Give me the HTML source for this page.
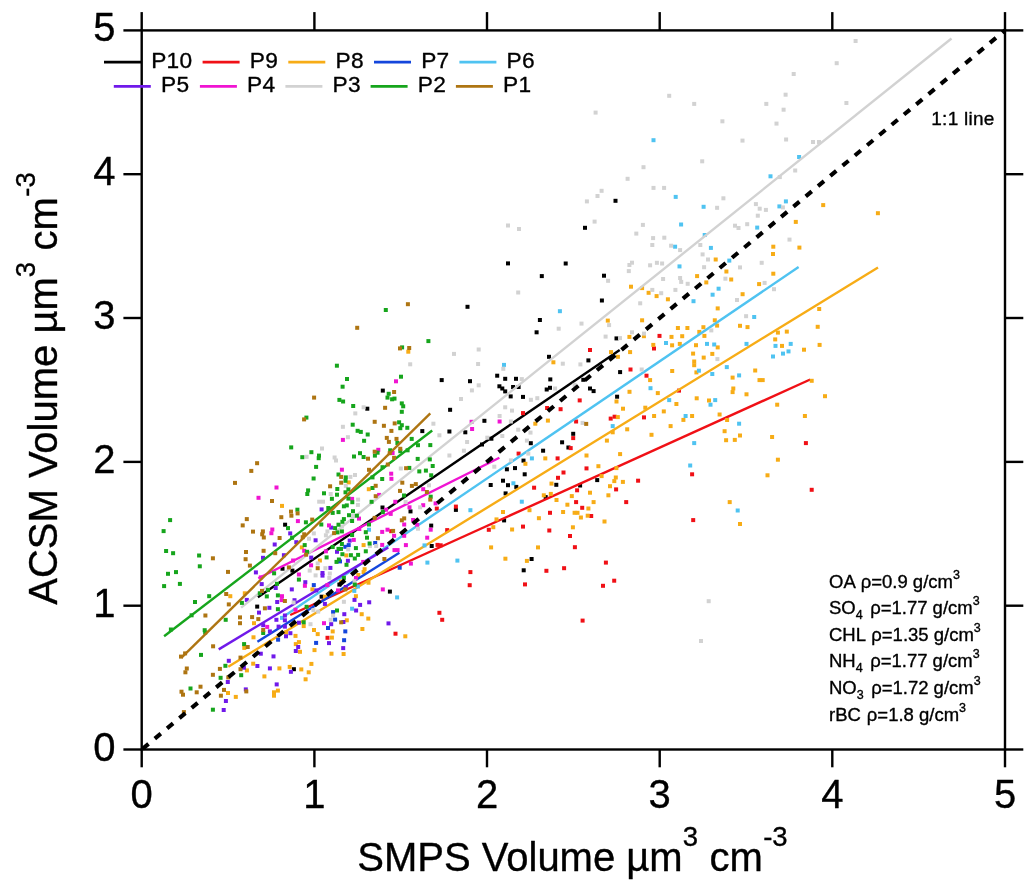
<!DOCTYPE html>
<html lang="en"><head><meta charset="utf-8"><title>ACSM vs SMPS volume scatter</title>
<style>html,body{margin:0;padding:0;background:#fff}body{width:1036px;height:892px;overflow:hidden}svg{display:block}text{font-family:"Liberation Sans", Arial, Helvetica, sans-serif;fill:#000;stroke:#000;stroke-width:0.35px;stroke-linejoin:round}</style></head><body>
<svg width="1036" height="892" viewBox="0 0 1036 892">
<rect width="1036" height="892" fill="#fff"/>
<g id="traces" stroke-width="2.4" stroke-linecap="butt">
<g fill="#000000" stroke="none">
<rect x="283.1" y="522.7" width="4.0" height="4.0"/><rect x="380.8" y="388.6" width="4.0" height="4.0"/><rect x="365.3" y="406.7" width="4.0" height="4.0"/><rect x="420.3" y="429.1" width="4.0" height="4.0"/><rect x="380.5" y="505.5" width="4.0" height="4.0"/><rect x="408.5" y="509.4" width="4.0" height="4.0"/><rect x="429.2" y="523.6" width="4.0" height="4.0"/><rect x="429.7" y="544.0" width="4.0" height="4.0"/><rect x="387.9" y="589.6" width="4.0" height="4.0"/><rect x="280.5" y="566.7" width="4.0" height="4.0"/><rect x="290.4" y="568.6" width="4.0" height="4.0"/><rect x="337.4" y="582.6" width="4.0" height="4.0"/><rect x="319.6" y="594.7" width="4.0" height="4.0"/><rect x="255.2" y="604.6" width="4.0" height="4.0"/><rect x="291.9" y="667.2" width="4.0" height="4.0"/><rect x="495.2" y="373.7" width="4.0" height="4.0"/><rect x="439.7" y="378.1" width="4.0" height="4.0"/><rect x="468.0" y="379.2" width="4.0" height="4.0"/><rect x="503.2" y="376.8" width="4.0" height="4.0"/><rect x="514.0" y="376.8" width="4.0" height="4.0"/><rect x="548.3" y="377.4" width="4.0" height="4.0"/><rect x="497.4" y="384.3" width="4.0" height="4.0"/><rect x="500.3" y="386.5" width="4.0" height="4.0"/><rect x="503.2" y="389.4" width="4.0" height="4.0"/><rect x="511.1" y="385.0" width="4.0" height="4.0"/><rect x="516.6" y="385.0" width="4.0" height="4.0"/><rect x="548.0" y="385.8" width="4.0" height="4.0"/><rect x="544.7" y="387.5" width="4.0" height="4.0"/><rect x="581.3" y="377.8" width="4.0" height="4.0"/><rect x="588.0" y="386.5" width="4.0" height="4.0"/><rect x="508.7" y="394.4" width="4.0" height="4.0"/><rect x="521.0" y="394.9" width="4.0" height="4.0"/><rect x="448.1" y="407.8" width="4.0" height="4.0"/><rect x="482.4" y="418.8" width="4.0" height="4.0"/><rect x="447.4" y="429.5" width="4.0" height="4.0"/><rect x="463.3" y="430.3" width="4.0" height="4.0"/><rect x="571.2" y="431.8" width="4.0" height="4.0"/><rect x="489.4" y="436.7" width="4.0" height="4.0"/><rect x="528.8" y="441.2" width="4.0" height="4.0"/><rect x="560.1" y="440.3" width="4.0" height="4.0"/><rect x="480.0" y="442.5" width="4.0" height="4.0"/><rect x="566.4" y="445.5" width="4.0" height="4.0"/><rect x="541.1" y="448.7" width="4.0" height="4.0"/><rect x="521.5" y="458.6" width="4.0" height="4.0"/><rect x="504.9" y="467.3" width="4.0" height="4.0"/><rect x="513.0" y="466.1" width="4.0" height="4.0"/><rect x="522.7" y="472.3" width="4.0" height="4.0"/><rect x="501.0" y="478.7" width="4.0" height="4.0"/><rect x="488.7" y="483.0" width="4.0" height="4.0"/><rect x="506.0" y="483.2" width="4.0" height="4.0"/><rect x="514.3" y="484.9" width="4.0" height="4.0"/><rect x="554.3" y="482.8" width="4.0" height="4.0"/><rect x="578.1" y="483.5" width="4.0" height="4.0"/><rect x="503.6" y="491.4" width="4.0" height="4.0"/><rect x="543.7" y="495.1" width="4.0" height="4.0"/><rect x="453.9" y="507.9" width="4.0" height="4.0"/><rect x="502.1" y="518.4" width="4.0" height="4.0"/><rect x="529.6" y="557.0" width="4.0" height="4.0"/><rect x="521.7" y="568.3" width="4.0" height="4.0"/><rect x="591.6" y="389.1" width="4.0" height="4.0"/><rect x="615.1" y="394.7" width="4.0" height="4.0"/><rect x="595.2" y="478.1" width="4.0" height="4.0"/><rect x="602.0" y="273.7" width="4.0" height="4.0"/><rect x="599.9" y="298.5" width="4.0" height="4.0"/><rect x="614.5" y="336.4" width="4.0" height="4.0"/><rect x="618.1" y="370.1" width="4.0" height="4.0"/><rect x="506.0" y="261.4" width="4.0" height="4.0"/><rect x="563.7" y="261.5" width="4.0" height="4.0"/><rect x="539.8" y="274.1" width="4.0" height="4.0"/><rect x="465.5" y="304.8" width="4.0" height="4.0"/><rect x="537.9" y="318.0" width="4.0" height="4.0"/><rect x="534.6" y="330.3" width="4.0" height="4.0"/><rect x="547.0" y="354.8" width="4.0" height="4.0"/><rect x="586.4" y="358.4" width="4.0" height="4.0"/><rect x="613.5" y="198.8" width="4.0" height="4.0"/><rect x="583.0" y="225.8" width="4.0" height="4.0"/>
</g>
<line x1="257.9" y1="597.2" x2="619.7" y2="350.0" stroke="#000000"/>
<g fill="#f01016" stroke="none">
<rect x="434.8" y="506.6" width="4.0" height="4.0"/><rect x="389.2" y="529.2" width="4.0" height="4.0"/><rect x="435.5" y="542.9" width="4.0" height="4.0"/><rect x="437.4" y="610.8" width="4.0" height="4.0"/><rect x="325.5" y="635.8" width="4.0" height="4.0"/><rect x="393.5" y="631.7" width="4.0" height="4.0"/><rect x="577.7" y="398.4" width="4.0" height="4.0"/><rect x="545.1" y="406.0" width="4.0" height="4.0"/><rect x="558.6" y="407.2" width="4.0" height="4.0"/><rect x="521.0" y="411.1" width="4.0" height="4.0"/><rect x="574.1" y="419.5" width="4.0" height="4.0"/><rect x="571.2" y="436.1" width="4.0" height="4.0"/><rect x="568.7" y="446.1" width="4.0" height="4.0"/><rect x="516.6" y="451.6" width="4.0" height="4.0"/><rect x="555.6" y="456.4" width="4.0" height="4.0"/><rect x="584.5" y="466.4" width="4.0" height="4.0"/><rect x="561.5" y="470.5" width="4.0" height="4.0"/><rect x="556.0" y="475.8" width="4.0" height="4.0"/><rect x="532.1" y="485.7" width="4.0" height="4.0"/><rect x="575.1" y="488.3" width="4.0" height="4.0"/><rect x="574.1" y="500.1" width="4.0" height="4.0"/><rect x="453.9" y="504.6" width="4.0" height="4.0"/><rect x="548.0" y="510.8" width="4.0" height="4.0"/><rect x="580.2" y="505.8" width="4.0" height="4.0"/><rect x="445.2" y="528.1" width="4.0" height="4.0"/><rect x="486.8" y="527.8" width="4.0" height="4.0"/><rect x="521.0" y="524.6" width="4.0" height="4.0"/><rect x="547.3" y="528.5" width="4.0" height="4.0"/><rect x="568.0" y="534.0" width="4.0" height="4.0"/><rect x="438.7" y="543.3" width="4.0" height="4.0"/><rect x="572.9" y="545.2" width="4.0" height="4.0"/><rect x="544.4" y="568.8" width="4.0" height="4.0"/><rect x="562.1" y="566.2" width="4.0" height="4.0"/><rect x="468.4" y="570.1" width="4.0" height="4.0"/><rect x="467.7" y="583.2" width="4.0" height="4.0"/><rect x="523.0" y="582.4" width="4.0" height="4.0"/><rect x="440.2" y="617.8" width="4.0" height="4.0"/><rect x="580.6" y="618.6" width="4.0" height="4.0"/><rect x="644.5" y="373.7" width="4.0" height="4.0"/><rect x="677.0" y="388.6" width="4.0" height="4.0"/><rect x="608.7" y="416.6" width="4.0" height="4.0"/><rect x="612.6" y="414.7" width="4.0" height="4.0"/><rect x="642.0" y="415.4" width="4.0" height="4.0"/><rect x="690.1" y="472.3" width="4.0" height="4.0"/><rect x="636.1" y="478.7" width="4.0" height="4.0"/><rect x="614.1" y="487.4" width="4.0" height="4.0"/><rect x="624.2" y="500.1" width="4.0" height="4.0"/><rect x="589.2" y="514.0" width="4.0" height="4.0"/><rect x="691.2" y="518.1" width="4.0" height="4.0"/><rect x="603.9" y="560.6" width="4.0" height="4.0"/><rect x="612.2" y="578.7" width="4.0" height="4.0"/><rect x="601.0" y="583.8" width="4.0" height="4.0"/><rect x="803.9" y="441.1" width="4.0" height="4.0"/><rect x="809.7" y="487.8" width="4.0" height="4.0"/><rect x="657.5" y="333.9" width="4.0" height="4.0"/><rect x="652.0" y="346.5" width="4.0" height="4.0"/><rect x="588.0" y="348.0" width="4.0" height="4.0"/><rect x="628.5" y="367.5" width="4.0" height="4.0"/>
</g>
<line x1="290.2" y1="615.0" x2="810.2" y2="379.5" stroke="#f01016"/>
<g fill="#f7ac16" stroke="none">
<rect x="406.3" y="349.7" width="4.0" height="4.0"/><rect x="280.0" y="503.9" width="4.0" height="4.0"/><rect x="346.7" y="480.4" width="4.0" height="4.0"/><rect x="366.8" y="487.2" width="4.0" height="4.0"/><rect x="361.6" y="543.1" width="4.0" height="4.0"/><rect x="344.3" y="553.4" width="4.0" height="4.0"/><rect x="362.6" y="567.2" width="4.0" height="4.0"/><rect x="361.6" y="570.1" width="4.0" height="4.0"/><rect x="356.3" y="573.0" width="4.0" height="4.0"/><rect x="339.0" y="579.5" width="4.0" height="4.0"/><rect x="366.5" y="580.7" width="4.0" height="4.0"/><rect x="353.9" y="594.2" width="4.0" height="4.0"/><rect x="359.7" y="612.2" width="4.0" height="4.0"/><rect x="366.3" y="616.6" width="4.0" height="4.0"/><rect x="344.8" y="618.3" width="4.0" height="4.0"/><rect x="360.4" y="627.0" width="4.0" height="4.0"/><rect x="299.8" y="545.4" width="4.0" height="4.0"/><rect x="317.9" y="558.5" width="4.0" height="4.0"/><rect x="310.4" y="587.4" width="4.0" height="4.0"/><rect x="242.8" y="591.3" width="4.0" height="4.0"/><rect x="322.9" y="594.7" width="4.0" height="4.0"/><rect x="252.0" y="621.2" width="4.0" height="4.0"/><rect x="301.7" y="624.1" width="4.0" height="4.0"/><rect x="312.0" y="628.0" width="4.0" height="4.0"/><rect x="330.7" y="629.4" width="4.0" height="4.0"/><rect x="284.0" y="630.5" width="4.0" height="4.0"/><rect x="315.7" y="632.1" width="4.0" height="4.0"/><rect x="251.5" y="635.3" width="4.0" height="4.0"/><rect x="293.5" y="633.9" width="4.0" height="4.0"/><rect x="329.9" y="635.6" width="4.0" height="4.0"/><rect x="242.3" y="645.9" width="4.0" height="4.0"/><rect x="296.9" y="640.1" width="4.0" height="4.0"/><rect x="293.8" y="642.1" width="4.0" height="4.0"/><rect x="298.0" y="649.8" width="4.0" height="4.0"/><rect x="312.5" y="648.1" width="4.0" height="4.0"/><rect x="329.5" y="651.7" width="4.0" height="4.0"/><rect x="251.2" y="661.7" width="4.0" height="4.0"/><rect x="309.4" y="661.9" width="4.0" height="4.0"/><rect x="277.4" y="666.4" width="4.0" height="4.0"/><rect x="287.7" y="664.9" width="4.0" height="4.0"/><rect x="299.3" y="667.4" width="4.0" height="4.0"/><rect x="306.7" y="670.3" width="4.0" height="4.0"/><rect x="244.9" y="668.4" width="4.0" height="4.0"/><rect x="262.4" y="674.4" width="4.0" height="4.0"/><rect x="303.6" y="677.3" width="4.0" height="4.0"/><rect x="275.9" y="688.6" width="4.0" height="4.0"/><rect x="272.0" y="690.3" width="4.0" height="4.0"/><rect x="272.0" y="693.7" width="4.0" height="4.0"/><rect x="228.3" y="594.2" width="4.0" height="4.0"/><rect x="226.0" y="691.0" width="4.0" height="4.0"/><rect x="233.8" y="694.9" width="4.0" height="4.0"/><rect x="403.3" y="634.3" width="4.0" height="4.0"/><rect x="341.6" y="652.0" width="4.0" height="4.0"/><rect x="545.9" y="418.6" width="4.0" height="4.0"/><rect x="533.3" y="421.7" width="4.0" height="4.0"/><rect x="584.5" y="453.5" width="4.0" height="4.0"/><rect x="543.3" y="456.4" width="4.0" height="4.0"/><rect x="523.4" y="461.8" width="4.0" height="4.0"/><rect x="549.5" y="481.6" width="4.0" height="4.0"/><rect x="541.8" y="493.3" width="4.0" height="4.0"/><rect x="548.8" y="491.9" width="4.0" height="4.0"/><rect x="569.8" y="494.1" width="4.0" height="4.0"/><rect x="554.5" y="498.0" width="4.0" height="4.0"/><rect x="588.0" y="490.7" width="4.0" height="4.0"/><rect x="501.0" y="510.0" width="4.0" height="4.0"/><rect x="527.5" y="508.2" width="4.0" height="4.0"/><rect x="561.1" y="510.0" width="4.0" height="4.0"/><rect x="565.4" y="502.7" width="4.0" height="4.0"/><rect x="586.4" y="506.5" width="4.0" height="4.0"/><rect x="572.6" y="510.8" width="4.0" height="4.0"/><rect x="575.5" y="510.8" width="4.0" height="4.0"/><rect x="585.7" y="513.7" width="4.0" height="4.0"/><rect x="578.9" y="515.5" width="4.0" height="4.0"/><rect x="494.5" y="517.4" width="4.0" height="4.0"/><rect x="536.9" y="516.2" width="4.0" height="4.0"/><rect x="491.3" y="525.2" width="4.0" height="4.0"/><rect x="510.1" y="527.5" width="4.0" height="4.0"/><rect x="570.9" y="525.3" width="4.0" height="4.0"/><rect x="489.1" y="545.4" width="4.0" height="4.0"/><rect x="536.0" y="545.4" width="4.0" height="4.0"/><rect x="503.4" y="556.7" width="4.0" height="4.0"/><rect x="524.9" y="558.9" width="4.0" height="4.0"/><rect x="648.1" y="378.1" width="4.0" height="4.0"/><rect x="627.5" y="389.8" width="4.0" height="4.0"/><rect x="614.5" y="399.5" width="4.0" height="4.0"/><rect x="655.8" y="391.1" width="4.0" height="4.0"/><rect x="674.4" y="402.0" width="4.0" height="4.0"/><rect x="694.7" y="396.3" width="4.0" height="4.0"/><rect x="707.0" y="398.5" width="4.0" height="4.0"/><rect x="730.6" y="375.6" width="4.0" height="4.0"/><rect x="731.3" y="386.5" width="4.0" height="4.0"/><rect x="730.6" y="390.1" width="4.0" height="4.0"/><rect x="621.0" y="406.7" width="4.0" height="4.0"/><rect x="643.3" y="405.7" width="4.0" height="4.0"/><rect x="661.8" y="409.4" width="4.0" height="4.0"/><rect x="615.8" y="415.1" width="4.0" height="4.0"/><rect x="652.1" y="414.0" width="4.0" height="4.0"/><rect x="690.1" y="414.0" width="4.0" height="4.0"/><rect x="681.4" y="417.9" width="4.0" height="4.0"/><rect x="717.6" y="412.5" width="4.0" height="4.0"/><rect x="725.1" y="418.0" width="4.0" height="4.0"/><rect x="625.2" y="427.3" width="4.0" height="4.0"/><rect x="668.6" y="424.1" width="4.0" height="4.0"/><rect x="610.7" y="430.3" width="4.0" height="4.0"/><rect x="649.5" y="432.8" width="4.0" height="4.0"/><rect x="722.6" y="429.2" width="4.0" height="4.0"/><rect x="738.0" y="433.5" width="4.0" height="4.0"/><rect x="604.9" y="438.6" width="4.0" height="4.0"/><rect x="724.1" y="438.2" width="4.0" height="4.0"/><rect x="732.8" y="437.9" width="4.0" height="4.0"/><rect x="618.1" y="452.1" width="4.0" height="4.0"/><rect x="596.4" y="464.2" width="4.0" height="4.0"/><rect x="614.4" y="466.1" width="4.0" height="4.0"/><rect x="599.6" y="474.1" width="4.0" height="4.0"/><rect x="613.8" y="475.5" width="4.0" height="4.0"/><rect x="612.3" y="479.1" width="4.0" height="4.0"/><rect x="620.9" y="479.9" width="4.0" height="4.0"/><rect x="608.0" y="484.2" width="4.0" height="4.0"/><rect x="606.4" y="493.3" width="4.0" height="4.0"/><rect x="591.6" y="500.1" width="4.0" height="4.0"/><rect x="727.7" y="500.1" width="4.0" height="4.0"/><rect x="602.5" y="519.5" width="4.0" height="4.0"/><rect x="738.0" y="522.0" width="4.0" height="4.0"/><rect x="757.5" y="378.1" width="4.0" height="4.0"/><rect x="760.7" y="378.1" width="4.0" height="4.0"/><rect x="809.7" y="378.8" width="4.0" height="4.0"/><rect x="744.5" y="392.3" width="4.0" height="4.0"/><rect x="823.0" y="394.2" width="4.0" height="4.0"/><rect x="775.2" y="402.7" width="4.0" height="4.0"/><rect x="802.9" y="414.0" width="4.0" height="4.0"/><rect x="770.1" y="435.0" width="4.0" height="4.0"/><rect x="775.9" y="457.7" width="4.0" height="4.0"/><rect x="765.5" y="473.3" width="4.0" height="4.0"/><rect x="771.3" y="244.7" width="4.0" height="4.0"/><rect x="797.4" y="245.6" width="4.0" height="4.0"/><rect x="771.0" y="252.0" width="4.0" height="4.0"/><rect x="771.3" y="271.7" width="4.0" height="4.0"/><rect x="757.1" y="282.1" width="4.0" height="4.0"/><rect x="740.6" y="292.2" width="4.0" height="4.0"/><rect x="738.0" y="323.8" width="4.0" height="4.0"/><rect x="745.5" y="325.1" width="4.0" height="4.0"/><rect x="817.2" y="307.0" width="4.0" height="4.0"/><rect x="815.7" y="324.8" width="4.0" height="4.0"/><rect x="775.9" y="330.6" width="4.0" height="4.0"/><rect x="784.8" y="329.6" width="4.0" height="4.0"/><rect x="773.2" y="337.4" width="4.0" height="4.0"/><rect x="780.0" y="343.9" width="4.0" height="4.0"/><rect x="817.6" y="342.9" width="4.0" height="4.0"/><rect x="802.0" y="347.7" width="4.0" height="4.0"/><rect x="753.2" y="368.5" width="4.0" height="4.0"/><rect x="713.7" y="257.5" width="4.0" height="4.0"/><rect x="724.4" y="269.5" width="4.0" height="4.0"/><rect x="695.1" y="274.1" width="4.0" height="4.0"/><rect x="704.3" y="280.4" width="4.0" height="4.0"/><rect x="729.2" y="277.5" width="4.0" height="4.0"/><rect x="629.0" y="284.7" width="4.0" height="4.0"/><rect x="640.1" y="286.1" width="4.0" height="4.0"/><rect x="646.6" y="290.8" width="4.0" height="4.0"/><rect x="654.6" y="294.1" width="4.0" height="4.0"/><rect x="665.9" y="297.3" width="4.0" height="4.0"/><rect x="715.7" y="306.4" width="4.0" height="4.0"/><rect x="605.8" y="318.6" width="4.0" height="4.0"/><rect x="640.1" y="318.3" width="4.0" height="4.0"/><rect x="712.8" y="318.3" width="4.0" height="4.0"/><rect x="715.1" y="323.6" width="4.0" height="4.0"/><rect x="675.9" y="326.0" width="4.0" height="4.0"/><rect x="685.4" y="326.0" width="4.0" height="4.0"/><rect x="701.4" y="325.2" width="4.0" height="4.0"/><rect x="697.3" y="329.9" width="4.0" height="4.0"/><rect x="641.9" y="334.2" width="4.0" height="4.0"/><rect x="627.4" y="334.9" width="4.0" height="4.0"/><rect x="669.5" y="334.9" width="4.0" height="4.0"/><rect x="680.2" y="334.2" width="4.0" height="4.0"/><rect x="702.4" y="333.9" width="4.0" height="4.0"/><rect x="670.1" y="343.3" width="4.0" height="4.0"/><rect x="677.8" y="341.9" width="4.0" height="4.0"/><rect x="651.3" y="342.9" width="4.0" height="4.0"/><rect x="694.0" y="343.2" width="4.0" height="4.0"/><rect x="715.7" y="345.4" width="4.0" height="4.0"/><rect x="609.0" y="350.1" width="4.0" height="4.0"/><rect x="628.1" y="350.1" width="4.0" height="4.0"/><rect x="615.9" y="354.8" width="4.0" height="4.0"/><rect x="691.1" y="351.6" width="4.0" height="4.0"/><rect x="710.3" y="351.9" width="4.0" height="4.0"/><rect x="701.7" y="355.6" width="4.0" height="4.0"/><rect x="692.2" y="359.5" width="4.0" height="4.0"/><rect x="692.2" y="363.2" width="4.0" height="4.0"/><rect x="670.2" y="369.0" width="4.0" height="4.0"/><rect x="694.4" y="370.4" width="4.0" height="4.0"/><rect x="551.4" y="360.3" width="4.0" height="4.0"/><rect x="821.2" y="203.1" width="4.0" height="4.0"/><rect x="875.9" y="211.2" width="4.0" height="4.0"/><rect x="793.8" y="219.9" width="4.0" height="4.0"/>
</g>
<line x1="228.3" y1="666.7" x2="878.0" y2="267.4" stroke="#f7ac16"/>
<g fill="#1446dc" stroke="none">
<rect x="373.2" y="541.0" width="4.0" height="4.0"/><rect x="346.7" y="543.1" width="4.0" height="4.0"/><rect x="343.3" y="544.8" width="4.0" height="4.0"/><rect x="338.0" y="559.4" width="4.0" height="4.0"/><rect x="397.7" y="565.7" width="4.0" height="4.0"/><rect x="343.3" y="629.4" width="4.0" height="4.0"/><rect x="311.8" y="583.1" width="4.0" height="4.0"/><rect x="331.1" y="610.1" width="4.0" height="4.0"/><rect x="333.1" y="617.6" width="4.0" height="4.0"/><rect x="326.0" y="626.0" width="4.0" height="4.0"/><rect x="276.1" y="637.7" width="4.0" height="4.0"/><rect x="314.1" y="640.9" width="4.0" height="4.0"/><rect x="342.1" y="638.2" width="4.0" height="4.0"/>
</g>
<line x1="257.4" y1="641.7" x2="399.4" y2="552.8" stroke="#1446dc"/>
<g fill="#4fc3f1" stroke="none">
<rect x="367.0" y="527.7" width="4.0" height="4.0"/><rect x="422.5" y="543.4" width="4.0" height="4.0"/><rect x="425.4" y="560.6" width="4.0" height="4.0"/><rect x="355.9" y="584.5" width="4.0" height="4.0"/><rect x="352.3" y="588.9" width="4.0" height="4.0"/><rect x="395.1" y="595.4" width="4.0" height="4.0"/><rect x="350.1" y="606.7" width="4.0" height="4.0"/><rect x="280.0" y="615.9" width="4.0" height="4.0"/><rect x="529.9" y="456.4" width="4.0" height="4.0"/><rect x="511.4" y="481.3" width="4.0" height="4.0"/><rect x="519.8" y="499.7" width="4.0" height="4.0"/><rect x="468.4" y="508.2" width="4.0" height="4.0"/><rect x="455.4" y="558.6" width="4.0" height="4.0"/><rect x="648.5" y="386.2" width="4.0" height="4.0"/><rect x="667.2" y="398.1" width="4.0" height="4.0"/><rect x="713.2" y="398.1" width="4.0" height="4.0"/><rect x="708.5" y="402.7" width="4.0" height="4.0"/><rect x="710.3" y="372.0" width="4.0" height="4.0"/><rect x="737.1" y="373.4" width="4.0" height="4.0"/><rect x="683.6" y="414.0" width="4.0" height="4.0"/><rect x="737.1" y="421.7" width="4.0" height="4.0"/><rect x="610.7" y="424.1" width="4.0" height="4.0"/><rect x="692.2" y="441.1" width="4.0" height="4.0"/><rect x="688.2" y="463.5" width="4.0" height="4.0"/><rect x="735.7" y="508.5" width="4.0" height="4.0"/><rect x="752.2" y="315.0" width="4.0" height="4.0"/><rect x="744.5" y="341.9" width="4.0" height="4.0"/><rect x="773.5" y="343.9" width="4.0" height="4.0"/><rect x="788.7" y="341.9" width="4.0" height="4.0"/><rect x="786.5" y="349.4" width="4.0" height="4.0"/><rect x="781.0" y="351.6" width="4.0" height="4.0"/><rect x="771.0" y="354.5" width="4.0" height="4.0"/><rect x="673.1" y="244.7" width="4.0" height="4.0"/><rect x="708.9" y="245.9" width="4.0" height="4.0"/><rect x="727.3" y="258.6" width="4.0" height="4.0"/><rect x="677.5" y="264.4" width="4.0" height="4.0"/><rect x="716.6" y="286.7" width="4.0" height="4.0"/><rect x="710.6" y="292.7" width="4.0" height="4.0"/><rect x="691.5" y="299.2" width="4.0" height="4.0"/><rect x="664.0" y="341.0" width="4.0" height="4.0"/><rect x="705.0" y="341.9" width="4.0" height="4.0"/><rect x="712.2" y="342.5" width="4.0" height="4.0"/><rect x="696.9" y="368.7" width="4.0" height="4.0"/><rect x="724.8" y="365.1" width="4.0" height="4.0"/><rect x="557.9" y="309.2" width="4.0" height="4.0"/><rect x="502.0" y="362.9" width="4.0" height="4.0"/><rect x="651.5" y="138.2" width="4.0" height="4.0"/><rect x="673.7" y="194.9" width="4.0" height="4.0"/><rect x="679.1" y="222.5" width="4.0" height="4.0"/><rect x="797.1" y="155.0" width="4.0" height="4.0"/><rect x="768.5" y="174.3" width="4.0" height="4.0"/><rect x="783.9" y="199.4" width="4.0" height="4.0"/><rect x="701.6" y="204.8" width="4.0" height="4.0"/><rect x="777.4" y="204.4" width="4.0" height="4.0"/><rect x="755.2" y="225.6" width="4.0" height="4.0"/><rect x="702.7" y="233.0" width="4.0" height="4.0"/>
</g>
<line x1="281.5" y1="617.9" x2="798.6" y2="267.0" stroke="#4fc3f1"/>
<g fill="#7019ea" stroke="none">
<rect x="319.6" y="507.4" width="4.0" height="4.0"/><rect x="329.2" y="525.6" width="4.0" height="4.0"/><rect x="288.2" y="531.4" width="4.0" height="4.0"/><rect x="313.6" y="538.3" width="4.0" height="4.0"/><rect x="294.3" y="540.2" width="4.0" height="4.0"/><rect x="272.7" y="542.5" width="4.0" height="4.0"/><rect x="347.7" y="538.6" width="4.0" height="4.0"/><rect x="345.9" y="558.8" width="4.0" height="4.0"/><rect x="343.8" y="585.0" width="4.0" height="4.0"/><rect x="352.5" y="597.9" width="4.0" height="4.0"/><rect x="367.2" y="600.3" width="4.0" height="4.0"/><rect x="358.1" y="602.9" width="4.0" height="4.0"/><rect x="354.1" y="608.5" width="4.0" height="4.0"/><rect x="342.3" y="612.2" width="4.0" height="4.0"/><rect x="341.4" y="620.0" width="4.0" height="4.0"/><rect x="386.5" y="621.4" width="4.0" height="4.0"/><rect x="281.9" y="553.2" width="4.0" height="4.0"/><rect x="335.0" y="549.8" width="4.0" height="4.0"/><rect x="261.0" y="555.8" width="4.0" height="4.0"/><rect x="309.2" y="555.6" width="4.0" height="4.0"/><rect x="328.4" y="565.9" width="4.0" height="4.0"/><rect x="253.9" y="570.4" width="4.0" height="4.0"/><rect x="320.5" y="571.0" width="4.0" height="4.0"/><rect x="320.5" y="573.6" width="4.0" height="4.0"/><rect x="303.3" y="580.2" width="4.0" height="4.0"/><rect x="259.7" y="582.1" width="4.0" height="4.0"/><rect x="273.7" y="586.0" width="4.0" height="4.0"/><rect x="289.8" y="587.4" width="4.0" height="4.0"/><rect x="314.3" y="588.4" width="4.0" height="4.0"/><rect x="244.8" y="597.9" width="4.0" height="4.0"/><rect x="275.2" y="600.0" width="4.0" height="4.0"/><rect x="292.5" y="598.2" width="4.0" height="4.0"/><rect x="267.4" y="605.8" width="4.0" height="4.0"/><rect x="257.0" y="610.6" width="4.0" height="4.0"/><rect x="322.9" y="601.9" width="4.0" height="4.0"/><rect x="274.4" y="617.8" width="4.0" height="4.0"/><rect x="282.9" y="613.5" width="4.0" height="4.0"/><rect x="282.9" y="618.3" width="4.0" height="4.0"/><rect x="296.9" y="620.7" width="4.0" height="4.0"/><rect x="329.2" y="622.2" width="4.0" height="4.0"/><rect x="261.2" y="623.2" width="4.0" height="4.0"/><rect x="276.6" y="624.6" width="4.0" height="4.0"/><rect x="282.9" y="624.6" width="4.0" height="4.0"/><rect x="267.9" y="629.4" width="4.0" height="4.0"/><rect x="288.4" y="631.2" width="4.0" height="4.0"/><rect x="284.0" y="634.3" width="4.0" height="4.0"/><rect x="327.0" y="641.1" width="4.0" height="4.0"/><rect x="296.2" y="645.0" width="4.0" height="4.0"/><rect x="293.8" y="649.0" width="4.0" height="4.0"/><rect x="258.8" y="651.7" width="4.0" height="4.0"/><rect x="271.5" y="654.4" width="4.0" height="4.0"/><rect x="255.4" y="664.0" width="4.0" height="4.0"/><rect x="267.9" y="666.4" width="4.0" height="4.0"/><rect x="288.9" y="669.8" width="4.0" height="4.0"/><rect x="241.9" y="665.7" width="4.0" height="4.0"/><rect x="274.7" y="682.4" width="4.0" height="4.0"/><rect x="243.8" y="687.4" width="4.0" height="4.0"/><rect x="226.8" y="658.8" width="4.0" height="4.0"/><rect x="225.8" y="680.0" width="4.0" height="4.0"/><rect x="223.9" y="699.0" width="4.0" height="4.0"/><rect x="221.7" y="708.0" width="4.0" height="4.0"/><rect x="341.2" y="646.1" width="4.0" height="4.0"/>
</g>
<line x1="218.7" y1="649.4" x2="388.3" y2="547.4" stroke="#7019ea"/>
<g fill="#f014d2" stroke="none">
<rect x="274.5" y="485.5" width="4.0" height="4.0"/><rect x="256.5" y="495.8" width="4.0" height="4.0"/><rect x="295.9" y="519.1" width="4.0" height="4.0"/><rect x="327.0" y="523.4" width="4.0" height="4.0"/><rect x="270.3" y="527.5" width="4.0" height="4.0"/><rect x="269.4" y="531.2" width="4.0" height="4.0"/><rect x="394.0" y="379.3" width="4.0" height="4.0"/><rect x="340.9" y="437.9" width="4.0" height="4.0"/><rect x="376.3" y="447.8" width="4.0" height="4.0"/><rect x="390.6" y="451.0" width="4.0" height="4.0"/><rect x="339.9" y="467.7" width="4.0" height="4.0"/><rect x="389.2" y="471.7" width="4.0" height="4.0"/><rect x="389.4" y="476.8" width="4.0" height="4.0"/><rect x="421.2" y="487.2" width="4.0" height="4.0"/><rect x="377.1" y="492.9" width="4.0" height="4.0"/><rect x="350.1" y="496.9" width="4.0" height="4.0"/><rect x="393.3" y="499.8" width="4.0" height="4.0"/><rect x="433.6" y="501.4" width="4.0" height="4.0"/><rect x="421.2" y="503.2" width="4.0" height="4.0"/><rect x="407.5" y="505.3" width="4.0" height="4.0"/><rect x="384.1" y="507.7" width="4.0" height="4.0"/><rect x="388.7" y="511.9" width="4.0" height="4.0"/><rect x="357.0" y="516.6" width="4.0" height="4.0"/><rect x="411.1" y="518.0" width="4.0" height="4.0"/><rect x="402.2" y="522.5" width="4.0" height="4.0"/><rect x="428.7" y="527.7" width="4.0" height="4.0"/><rect x="415.2" y="522.9" width="4.0" height="4.0"/><rect x="357.3" y="527.0" width="4.0" height="4.0"/><rect x="380.2" y="529.9" width="4.0" height="4.0"/><rect x="385.5" y="527.7" width="4.0" height="4.0"/><rect x="392.1" y="533.8" width="4.0" height="4.0"/><rect x="402.2" y="533.8" width="4.0" height="4.0"/><rect x="425.2" y="535.7" width="4.0" height="4.0"/><rect x="351.8" y="537.9" width="4.0" height="4.0"/><rect x="380.2" y="542.9" width="4.0" height="4.0"/><rect x="403.9" y="543.1" width="4.0" height="4.0"/><rect x="392.5" y="548.1" width="4.0" height="4.0"/><rect x="395.6" y="548.1" width="4.0" height="4.0"/><rect x="361.2" y="559.9" width="4.0" height="4.0"/><rect x="408.9" y="561.6" width="4.0" height="4.0"/><rect x="353.9" y="575.9" width="4.0" height="4.0"/><rect x="380.8" y="587.4" width="4.0" height="4.0"/><rect x="302.2" y="548.8" width="4.0" height="4.0"/><rect x="323.9" y="549.3" width="4.0" height="4.0"/><rect x="291.1" y="558.5" width="4.0" height="4.0"/><rect x="309.1" y="563.3" width="4.0" height="4.0"/><rect x="296.9" y="572.5" width="4.0" height="4.0"/><rect x="258.8" y="575.4" width="4.0" height="4.0"/><rect x="302.9" y="583.8" width="4.0" height="4.0"/><rect x="325.4" y="583.1" width="4.0" height="4.0"/><rect x="336.0" y="588.4" width="4.0" height="4.0"/><rect x="280.0" y="594.2" width="4.0" height="4.0"/><rect x="279.7" y="598.1" width="4.0" height="4.0"/><rect x="293.5" y="607.7" width="4.0" height="4.0"/><rect x="322.0" y="621.2" width="4.0" height="4.0"/><rect x="265.2" y="624.9" width="4.0" height="4.0"/><rect x="497.6" y="419.5" width="4.0" height="4.0"/><rect x="469.6" y="419.8" width="4.0" height="4.0"/><rect x="470.1" y="427.0" width="4.0" height="4.0"/>
</g>
<line x1="258.3" y1="578.3" x2="499.4" y2="457.7" stroke="#f014d2"/>
<g fill="#d2d2d2" stroke="none">
<rect x="408.2" y="362.3" width="4.0" height="4.0"/><rect x="320.0" y="446.5" width="4.0" height="4.0"/><rect x="304.6" y="454.8" width="4.0" height="4.0"/><rect x="332.6" y="455.5" width="4.0" height="4.0"/><rect x="334.0" y="458.5" width="4.0" height="4.0"/><rect x="328.7" y="492.0" width="4.0" height="4.0"/><rect x="317.2" y="499.7" width="4.0" height="4.0"/><rect x="321.0" y="499.7" width="4.0" height="4.0"/><rect x="311.8" y="531.4" width="4.0" height="4.0"/><rect x="325.4" y="529.4" width="4.0" height="4.0"/><rect x="323.9" y="533.3" width="4.0" height="4.0"/><rect x="307.0" y="536.7" width="4.0" height="4.0"/><rect x="361.6" y="405.3" width="4.0" height="4.0"/><rect x="353.3" y="411.4" width="4.0" height="4.0"/><rect x="340.9" y="424.8" width="4.0" height="4.0"/><rect x="431.4" y="421.7" width="4.0" height="4.0"/><rect x="345.9" y="435.2" width="4.0" height="4.0"/><rect x="437.4" y="433.3" width="4.0" height="4.0"/><rect x="398.8" y="466.5" width="4.0" height="4.0"/><rect x="348.4" y="474.9" width="4.0" height="4.0"/><rect x="353.0" y="473.0" width="4.0" height="4.0"/><rect x="427.0" y="483.3" width="4.0" height="4.0"/><rect x="343.8" y="483.9" width="4.0" height="4.0"/><rect x="356.1" y="497.6" width="4.0" height="4.0"/><rect x="355.9" y="502.9" width="4.0" height="4.0"/><rect x="403.6" y="500.0" width="4.0" height="4.0"/><rect x="418.1" y="505.3" width="4.0" height="4.0"/><rect x="351.0" y="514.0" width="4.0" height="4.0"/><rect x="416.0" y="526.7" width="4.0" height="4.0"/><rect x="339.9" y="524.6" width="4.0" height="4.0"/><rect x="346.2" y="547.4" width="4.0" height="4.0"/><rect x="367.9" y="544.0" width="4.0" height="4.0"/><rect x="374.2" y="544.0" width="4.0" height="4.0"/><rect x="352.5" y="579.2" width="4.0" height="4.0"/><rect x="341.9" y="599.8" width="4.0" height="4.0"/><rect x="315.7" y="561.4" width="4.0" height="4.0"/><rect x="323.4" y="566.2" width="4.0" height="4.0"/><rect x="307.7" y="568.6" width="4.0" height="4.0"/><rect x="313.6" y="573.4" width="4.0" height="4.0"/><rect x="327.8" y="571.5" width="4.0" height="4.0"/><rect x="327.3" y="575.9" width="4.0" height="4.0"/><rect x="291.6" y="600.5" width="4.0" height="4.0"/><rect x="331.1" y="613.5" width="4.0" height="4.0"/><rect x="316.2" y="609.6" width="4.0" height="4.0"/><rect x="311.4" y="608.2" width="4.0" height="4.0"/><rect x="328.7" y="617.8" width="4.0" height="4.0"/><rect x="308.5" y="622.2" width="4.0" height="4.0"/><rect x="519.8" y="377.1" width="4.0" height="4.0"/><rect x="476.7" y="383.3" width="4.0" height="4.0"/><rect x="469.9" y="388.4" width="4.0" height="4.0"/><rect x="553.1" y="386.5" width="4.0" height="4.0"/><rect x="572.6" y="382.9" width="4.0" height="4.0"/><rect x="459.0" y="397.0" width="4.0" height="4.0"/><rect x="528.9" y="397.8" width="4.0" height="4.0"/><rect x="535.3" y="396.2" width="4.0" height="4.0"/><rect x="503.2" y="405.3" width="4.0" height="4.0"/><rect x="510.0" y="408.6" width="4.0" height="4.0"/><rect x="497.6" y="414.0" width="4.0" height="4.0"/><rect x="508.9" y="419.5" width="4.0" height="4.0"/><rect x="580.6" y="420.9" width="4.0" height="4.0"/><rect x="516.2" y="427.7" width="4.0" height="4.0"/><rect x="528.5" y="430.6" width="4.0" height="4.0"/><rect x="500.3" y="434.0" width="4.0" height="4.0"/><rect x="485.3" y="435.7" width="4.0" height="4.0"/><rect x="465.1" y="440.0" width="4.0" height="4.0"/><rect x="524.9" y="438.6" width="4.0" height="4.0"/><rect x="461.9" y="448.7" width="4.0" height="4.0"/><rect x="447.4" y="453.5" width="4.0" height="4.0"/><rect x="526.3" y="451.6" width="4.0" height="4.0"/><rect x="508.9" y="458.4" width="4.0" height="4.0"/><rect x="492.3" y="464.7" width="4.0" height="4.0"/><rect x="706.7" y="599.2" width="4.0" height="4.0"/><rect x="699.0" y="639.0" width="4.0" height="4.0"/><rect x="759.7" y="260.8" width="4.0" height="4.0"/><rect x="738.0" y="265.4" width="4.0" height="4.0"/><rect x="762.6" y="280.9" width="4.0" height="4.0"/><rect x="772.0" y="287.2" width="4.0" height="4.0"/><rect x="744.1" y="314.2" width="4.0" height="4.0"/><rect x="650.3" y="243.0" width="4.0" height="4.0"/><rect x="669.1" y="243.7" width="4.0" height="4.0"/><rect x="678.1" y="248.1" width="4.0" height="4.0"/><rect x="698.3" y="243.0" width="4.0" height="4.0"/><rect x="700.6" y="252.4" width="4.0" height="4.0"/><rect x="706.0" y="257.5" width="4.0" height="4.0"/><rect x="630.0" y="260.7" width="4.0" height="4.0"/><rect x="627.4" y="263.0" width="4.0" height="4.0"/><rect x="626.8" y="269.1" width="4.0" height="4.0"/><rect x="648.1" y="263.3" width="4.0" height="4.0"/><rect x="654.9" y="260.8" width="4.0" height="4.0"/><rect x="660.1" y="261.5" width="4.0" height="4.0"/><rect x="702.1" y="265.2" width="4.0" height="4.0"/><rect x="606.1" y="278.8" width="4.0" height="4.0"/><rect x="661.1" y="277.0" width="4.0" height="4.0"/><rect x="678.1" y="276.0" width="4.0" height="4.0"/><rect x="679.2" y="279.9" width="4.0" height="4.0"/><rect x="685.7" y="281.8" width="4.0" height="4.0"/><rect x="723.4" y="276.7" width="4.0" height="4.0"/><rect x="650.3" y="287.9" width="4.0" height="4.0"/><rect x="659.2" y="291.2" width="4.0" height="4.0"/><rect x="673.4" y="287.9" width="4.0" height="4.0"/><rect x="735.0" y="298.0" width="4.0" height="4.0"/><rect x="638.2" y="301.3" width="4.0" height="4.0"/><rect x="607.1" y="323.1" width="4.0" height="4.0"/><rect x="709.3" y="328.4" width="4.0" height="4.0"/><rect x="630.0" y="330.3" width="4.0" height="4.0"/><rect x="642.0" y="331.6" width="4.0" height="4.0"/><rect x="603.6" y="334.6" width="4.0" height="4.0"/><rect x="618.0" y="336.1" width="4.0" height="4.0"/><rect x="715.4" y="357.1" width="4.0" height="4.0"/><rect x="639.7" y="367.5" width="4.0" height="4.0"/><rect x="516.2" y="290.5" width="4.0" height="4.0"/><rect x="579.5" y="321.6" width="4.0" height="4.0"/><rect x="556.7" y="326.7" width="4.0" height="4.0"/><rect x="476.7" y="347.5" width="4.0" height="4.0"/><rect x="452.0" y="351.9" width="4.0" height="4.0"/><rect x="476.1" y="362.0" width="4.0" height="4.0"/><rect x="501.3" y="366.8" width="4.0" height="4.0"/><rect x="560.8" y="361.7" width="4.0" height="4.0"/><rect x="578.4" y="362.4" width="4.0" height="4.0"/><rect x="667.2" y="93.8" width="4.0" height="4.0"/><rect x="593.6" y="110.6" width="4.0" height="4.0"/><rect x="641.5" y="165.2" width="4.0" height="4.0"/><rect x="625.6" y="176.8" width="4.0" height="4.0"/><rect x="651.5" y="185.9" width="4.0" height="4.0"/><rect x="662.1" y="185.9" width="4.0" height="4.0"/><rect x="599.6" y="188.8" width="4.0" height="4.0"/><rect x="595.5" y="194.0" width="4.0" height="4.0"/><rect x="584.9" y="199.4" width="4.0" height="4.0"/><rect x="592.6" y="219.6" width="4.0" height="4.0"/><rect x="506.0" y="223.5" width="4.0" height="4.0"/><rect x="517.0" y="227.0" width="4.0" height="4.0"/><rect x="640.9" y="222.9" width="4.0" height="4.0"/><rect x="634.3" y="231.6" width="4.0" height="4.0"/><rect x="651.1" y="236.1" width="4.0" height="4.0"/><rect x="662.3" y="235.7" width="4.0" height="4.0"/><rect x="853.6" y="39.0" width="4.0" height="4.0"/><rect x="834.7" y="61.2" width="4.0" height="4.0"/><rect x="791.7" y="72.0" width="4.0" height="4.0"/><rect x="783.6" y="92.7" width="4.0" height="4.0"/><rect x="692.2" y="101.9" width="4.0" height="4.0"/><rect x="764.3" y="101.9" width="4.0" height="4.0"/><rect x="844.4" y="101.0" width="4.0" height="4.0"/><rect x="781.6" y="107.7" width="4.0" height="4.0"/><rect x="720.4" y="119.3" width="4.0" height="4.0"/><rect x="774.5" y="121.6" width="4.0" height="4.0"/><rect x="740.5" y="138.6" width="4.0" height="4.0"/><rect x="784.1" y="137.5" width="4.0" height="4.0"/><rect x="811.0" y="140.0" width="4.0" height="4.0"/><rect x="817.0" y="140.0" width="4.0" height="4.0"/><rect x="700.2" y="159.3" width="4.0" height="4.0"/><rect x="793.2" y="168.5" width="4.0" height="4.0"/><rect x="777.8" y="175.1" width="4.0" height="4.0"/><rect x="721.4" y="196.3" width="4.0" height="4.0"/><rect x="715.1" y="205.8" width="4.0" height="4.0"/><rect x="753.9" y="202.1" width="4.0" height="4.0"/><rect x="757.7" y="206.7" width="4.0" height="4.0"/><rect x="763.9" y="207.9" width="4.0" height="4.0"/><rect x="780.9" y="205.4" width="4.0" height="4.0"/><rect x="755.8" y="213.7" width="4.0" height="4.0"/><rect x="745.2" y="222.2" width="4.0" height="4.0"/><rect x="733.0" y="223.7" width="4.0" height="4.0"/><rect x="736.5" y="226.0" width="4.0" height="4.0"/><rect x="787.5" y="237.6" width="4.0" height="4.0"/>
</g>
<line x1="241.1" y1="607.6" x2="951.5" y2="38.5" stroke="#d2d2d2"/>
<g fill="#16a51c" stroke="none">
<rect x="383.8" y="308.0" width="4.0" height="4.0"/><rect x="426.4" y="339.1" width="4.0" height="4.0"/><rect x="400.1" y="345.4" width="4.0" height="4.0"/><rect x="334.9" y="363.7" width="4.0" height="4.0"/><rect x="168.1" y="518.1" width="4.0" height="4.0"/><rect x="161.6" y="529.1" width="4.0" height="4.0"/><rect x="337.4" y="397.9" width="4.0" height="4.0"/><rect x="304.4" y="415.6" width="4.0" height="4.0"/><rect x="289.2" y="445.4" width="4.0" height="4.0"/><rect x="309.4" y="450.2" width="4.0" height="4.0"/><rect x="300.3" y="455.2" width="4.0" height="4.0"/><rect x="317.0" y="453.6" width="4.0" height="4.0"/><rect x="316.7" y="456.2" width="4.0" height="4.0"/><rect x="314.1" y="464.9" width="4.0" height="4.0"/><rect x="336.5" y="472.5" width="4.0" height="4.0"/><rect x="311.6" y="476.5" width="4.0" height="4.0"/><rect x="306.1" y="488.4" width="4.0" height="4.0"/><rect x="305.3" y="492.0" width="4.0" height="4.0"/><rect x="322.0" y="491.3" width="4.0" height="4.0"/><rect x="335.3" y="487.0" width="4.0" height="4.0"/><rect x="335.0" y="492.7" width="4.0" height="4.0"/><rect x="329.9" y="496.8" width="4.0" height="4.0"/><rect x="295.4" y="507.7" width="4.0" height="4.0"/><rect x="326.3" y="506.0" width="4.0" height="4.0"/><rect x="330.7" y="510.9" width="4.0" height="4.0"/><rect x="336.5" y="510.1" width="4.0" height="4.0"/><rect x="303.9" y="520.3" width="4.0" height="4.0"/><rect x="319.3" y="522.5" width="4.0" height="4.0"/><rect x="286.0" y="526.1" width="4.0" height="4.0"/><rect x="333.1" y="526.1" width="4.0" height="4.0"/><rect x="336.5" y="522.7" width="4.0" height="4.0"/><rect x="290.1" y="535.7" width="4.0" height="4.0"/><rect x="335.5" y="530.4" width="4.0" height="4.0"/><rect x="302.7" y="543.1" width="4.0" height="4.0"/><rect x="345.0" y="377.0" width="4.0" height="4.0"/><rect x="399.0" y="374.7" width="4.0" height="4.0"/><rect x="340.6" y="384.7" width="4.0" height="4.0"/><rect x="386.7" y="391.8" width="4.0" height="4.0"/><rect x="385.5" y="395.6" width="4.0" height="4.0"/><rect x="390.1" y="397.3" width="4.0" height="4.0"/><rect x="392.5" y="396.6" width="4.0" height="4.0"/><rect x="341.1" y="399.5" width="4.0" height="4.0"/><rect x="399.8" y="401.4" width="4.0" height="4.0"/><rect x="401.2" y="404.3" width="4.0" height="4.0"/><rect x="351.2" y="404.0" width="4.0" height="4.0"/><rect x="399.8" y="409.8" width="4.0" height="4.0"/><rect x="397.1" y="420.3" width="4.0" height="4.0"/><rect x="399.8" y="423.2" width="4.0" height="4.0"/><rect x="398.3" y="426.2" width="4.0" height="4.0"/><rect x="405.3" y="425.8" width="4.0" height="4.0"/><rect x="350.7" y="422.7" width="4.0" height="4.0"/><rect x="355.6" y="428.8" width="4.0" height="4.0"/><rect x="358.8" y="429.9" width="4.0" height="4.0"/><rect x="365.7" y="432.5" width="4.0" height="4.0"/><rect x="409.7" y="436.9" width="4.0" height="4.0"/><rect x="362.1" y="438.8" width="4.0" height="4.0"/><rect x="395.4" y="441.0" width="4.0" height="4.0"/><rect x="416.0" y="443.2" width="4.0" height="4.0"/><rect x="428.3" y="443.1" width="4.0" height="4.0"/><rect x="398.3" y="449.2" width="4.0" height="4.0"/><rect x="405.6" y="448.3" width="4.0" height="4.0"/><rect x="388.2" y="448.3" width="4.0" height="4.0"/><rect x="358.0" y="451.2" width="4.0" height="4.0"/><rect x="375.6" y="450.7" width="4.0" height="4.0"/><rect x="372.9" y="453.6" width="4.0" height="4.0"/><rect x="352.0" y="454.5" width="4.0" height="4.0"/><rect x="361.6" y="455.0" width="4.0" height="4.0"/><rect x="415.7" y="456.9" width="4.0" height="4.0"/><rect x="427.8" y="457.4" width="4.0" height="4.0"/><rect x="430.7" y="464.0" width="4.0" height="4.0"/><rect x="407.3" y="465.9" width="4.0" height="4.0"/><rect x="380.5" y="465.2" width="4.0" height="4.0"/><rect x="417.3" y="469.4" width="4.0" height="4.0"/><rect x="423.9" y="468.6" width="4.0" height="4.0"/><rect x="429.2" y="473.3" width="4.0" height="4.0"/><rect x="380.2" y="477.0" width="4.0" height="4.0"/><rect x="370.5" y="475.4" width="4.0" height="4.0"/><rect x="343.8" y="475.4" width="4.0" height="4.0"/><rect x="343.5" y="478.8" width="4.0" height="4.0"/><rect x="370.5" y="486.0" width="4.0" height="4.0"/><rect x="346.4" y="487.4" width="4.0" height="4.0"/><rect x="343.5" y="490.3" width="4.0" height="4.0"/><rect x="402.0" y="493.5" width="4.0" height="4.0"/><rect x="428.7" y="494.7" width="4.0" height="4.0"/><rect x="346.4" y="496.6" width="4.0" height="4.0"/><rect x="350.3" y="500.2" width="4.0" height="4.0"/><rect x="369.6" y="499.8" width="4.0" height="4.0"/><rect x="341.9" y="504.3" width="4.0" height="4.0"/><rect x="344.8" y="503.4" width="4.0" height="4.0"/><rect x="380.8" y="510.1" width="4.0" height="4.0"/><rect x="351.0" y="509.2" width="4.0" height="4.0"/><rect x="347.0" y="513.2" width="4.0" height="4.0"/><rect x="354.9" y="513.7" width="4.0" height="4.0"/><rect x="341.9" y="517.1" width="4.0" height="4.0"/><rect x="350.1" y="519.0" width="4.0" height="4.0"/><rect x="340.4" y="519.8" width="4.0" height="4.0"/><rect x="367.0" y="522.5" width="4.0" height="4.0"/><rect x="339.9" y="529.4" width="4.0" height="4.0"/><rect x="363.8" y="530.2" width="4.0" height="4.0"/><rect x="350.1" y="533.0" width="4.0" height="4.0"/><rect x="365.0" y="535.7" width="4.0" height="4.0"/><rect x="367.6" y="541.5" width="4.0" height="4.0"/><rect x="339.9" y="542.0" width="4.0" height="4.0"/><rect x="353.9" y="546.1" width="4.0" height="4.0"/><rect x="339.0" y="546.9" width="4.0" height="4.0"/><rect x="363.8" y="549.3" width="4.0" height="4.0"/><rect x="340.4" y="552.2" width="4.0" height="4.0"/><rect x="348.9" y="553.2" width="4.0" height="4.0"/><rect x="356.1" y="552.9" width="4.0" height="4.0"/><rect x="352.8" y="556.5" width="4.0" height="4.0"/><rect x="344.5" y="562.8" width="4.0" height="4.0"/><rect x="341.9" y="575.9" width="4.0" height="4.0"/><rect x="352.8" y="582.6" width="4.0" height="4.0"/><rect x="330.7" y="545.0" width="4.0" height="4.0"/><rect x="336.5" y="546.9" width="4.0" height="4.0"/><rect x="305.1" y="549.8" width="4.0" height="4.0"/><rect x="324.6" y="555.4" width="4.0" height="4.0"/><rect x="334.5" y="559.9" width="4.0" height="4.0"/><rect x="336.9" y="557.5" width="4.0" height="4.0"/><rect x="272.1" y="571.3" width="4.0" height="4.0"/><rect x="296.9" y="577.6" width="4.0" height="4.0"/><rect x="275.0" y="581.8" width="4.0" height="4.0"/><rect x="266.0" y="587.9" width="4.0" height="4.0"/><rect x="257.8" y="591.3" width="4.0" height="4.0"/><rect x="264.8" y="594.4" width="4.0" height="4.0"/><rect x="275.9" y="593.4" width="4.0" height="4.0"/><rect x="239.9" y="600.9" width="4.0" height="4.0"/><rect x="275.9" y="607.2" width="4.0" height="4.0"/><rect x="304.6" y="604.8" width="4.0" height="4.0"/><rect x="335.0" y="608.5" width="4.0" height="4.0"/><rect x="301.7" y="620.3" width="4.0" height="4.0"/><rect x="261.2" y="631.0" width="4.0" height="4.0"/><rect x="242.1" y="642.1" width="4.0" height="4.0"/><rect x="239.2" y="673.2" width="4.0" height="4.0"/><rect x="164.1" y="549.0" width="4.0" height="4.0"/><rect x="171.1" y="551.2" width="4.0" height="4.0"/><rect x="197.1" y="553.5" width="4.0" height="4.0"/><rect x="197.8" y="564.3" width="4.0" height="4.0"/><rect x="166.0" y="571.8" width="4.0" height="4.0"/><rect x="174.0" y="570.1" width="4.0" height="4.0"/><rect x="162.1" y="584.1" width="4.0" height="4.0"/><rect x="177.9" y="581.9" width="4.0" height="4.0"/><rect x="207.2" y="594.2" width="4.0" height="4.0"/><rect x="193.0" y="600.0" width="4.0" height="4.0"/><rect x="189.6" y="613.3" width="4.0" height="4.0"/><rect x="223.7" y="617.8" width="4.0" height="4.0"/><rect x="168.9" y="627.5" width="4.0" height="4.0"/><rect x="202.7" y="628.2" width="4.0" height="4.0"/><rect x="203.2" y="630.5" width="4.0" height="4.0"/><rect x="199.0" y="652.9" width="4.0" height="4.0"/><rect x="223.4" y="663.8" width="4.0" height="4.0"/><rect x="218.6" y="675.8" width="4.0" height="4.0"/><rect x="188.5" y="686.5" width="4.0" height="4.0"/><rect x="210.9" y="707.7" width="4.0" height="4.0"/>
</g>
<line x1="164.1" y1="636.3" x2="432.2" y2="430.5" stroke="#16a51c"/>
<g fill="#ae7512" stroke="none">
<rect x="405.9" y="302.2" width="4.0" height="4.0"/><rect x="355.2" y="325.8" width="4.0" height="4.0"/><rect x="398.0" y="346.4" width="4.0" height="4.0"/><rect x="407.2" y="346.0" width="4.0" height="4.0"/><rect x="233.0" y="480.9" width="4.0" height="4.0"/><rect x="312.1" y="395.6" width="4.0" height="4.0"/><rect x="302.1" y="417.4" width="4.0" height="4.0"/><rect x="255.1" y="461.2" width="4.0" height="4.0"/><rect x="249.3" y="468.9" width="4.0" height="4.0"/><rect x="328.1" y="484.3" width="4.0" height="4.0"/><rect x="270.0" y="499.0" width="4.0" height="4.0"/><rect x="295.6" y="511.4" width="4.0" height="4.0"/><rect x="289.0" y="509.6" width="4.0" height="4.0"/><rect x="289.4" y="513.7" width="4.0" height="4.0"/><rect x="279.3" y="515.2" width="4.0" height="4.0"/><rect x="244.8" y="517.1" width="4.0" height="4.0"/><rect x="310.2" y="517.6" width="4.0" height="4.0"/><rect x="240.7" y="523.4" width="4.0" height="4.0"/><rect x="251.0" y="529.6" width="4.0" height="4.0"/><rect x="260.9" y="529.4" width="4.0" height="4.0"/><rect x="260.2" y="532.3" width="4.0" height="4.0"/><rect x="261.8" y="535.5" width="4.0" height="4.0"/><rect x="277.6" y="536.0" width="4.0" height="4.0"/><rect x="302.2" y="532.3" width="4.0" height="4.0"/><rect x="300.7" y="535.2" width="4.0" height="4.0"/><rect x="332.1" y="531.1" width="4.0" height="4.0"/><rect x="392.1" y="390.0" width="4.0" height="4.0"/><rect x="383.1" y="405.8" width="4.0" height="4.0"/><rect x="372.7" y="419.8" width="4.0" height="4.0"/><rect x="392.7" y="421.4" width="4.0" height="4.0"/><rect x="381.9" y="423.8" width="4.0" height="4.0"/><rect x="389.4" y="428.9" width="4.0" height="4.0"/><rect x="384.8" y="435.9" width="4.0" height="4.0"/><rect x="394.5" y="436.9" width="4.0" height="4.0"/><rect x="386.9" y="439.9" width="4.0" height="4.0"/><rect x="398.3" y="446.8" width="4.0" height="4.0"/><rect x="372.7" y="449.7" width="4.0" height="4.0"/><rect x="387.7" y="451.2" width="4.0" height="4.0"/><rect x="366.0" y="456.7" width="4.0" height="4.0"/><rect x="392.1" y="455.8" width="4.0" height="4.0"/><rect x="385.8" y="462.5" width="4.0" height="4.0"/><rect x="404.1" y="466.2" width="4.0" height="4.0"/><rect x="367.0" y="467.8" width="4.0" height="4.0"/><rect x="339.2" y="474.9" width="4.0" height="4.0"/><rect x="339.2" y="480.7" width="4.0" height="4.0"/><rect x="400.3" y="480.7" width="4.0" height="4.0"/><rect x="413.8" y="482.1" width="4.0" height="4.0"/><rect x="409.9" y="483.9" width="4.0" height="4.0"/><rect x="373.7" y="483.8" width="4.0" height="4.0"/><rect x="398.0" y="488.9" width="4.0" height="4.0"/><rect x="424.9" y="490.0" width="4.0" height="4.0"/><rect x="373.7" y="494.2" width="4.0" height="4.0"/><rect x="428.3" y="497.6" width="4.0" height="4.0"/><rect x="372.7" y="515.9" width="4.0" height="4.0"/><rect x="402.2" y="516.4" width="4.0" height="4.0"/><rect x="399.8" y="518.3" width="4.0" height="4.0"/><rect x="391.1" y="528.9" width="4.0" height="4.0"/><rect x="375.9" y="536.2" width="4.0" height="4.0"/><rect x="382.4" y="557.0" width="4.0" height="4.0"/><rect x="343.3" y="587.4" width="4.0" height="4.0"/><rect x="339.2" y="620.3" width="4.0" height="4.0"/><rect x="244.0" y="550.0" width="4.0" height="4.0"/><rect x="261.6" y="548.8" width="4.0" height="4.0"/><rect x="304.1" y="552.7" width="4.0" height="4.0"/><rect x="273.2" y="551.2" width="4.0" height="4.0"/><rect x="243.6" y="557.2" width="4.0" height="4.0"/><rect x="247.9" y="563.6" width="4.0" height="4.0"/><rect x="315.7" y="566.2" width="4.0" height="4.0"/><rect x="286.9" y="565.4" width="4.0" height="4.0"/><rect x="260.0" y="588.9" width="4.0" height="4.0"/><rect x="282.9" y="599.0" width="4.0" height="4.0"/><rect x="262.9" y="606.3" width="4.0" height="4.0"/><rect x="250.1" y="615.1" width="4.0" height="4.0"/><rect x="256.3" y="617.1" width="4.0" height="4.0"/><rect x="238.0" y="615.4" width="4.0" height="4.0"/><rect x="238.0" y="621.2" width="4.0" height="4.0"/><rect x="261.2" y="628.0" width="4.0" height="4.0"/><rect x="245.7" y="645.0" width="4.0" height="4.0"/><rect x="238.5" y="655.6" width="4.0" height="4.0"/><rect x="238.5" y="667.2" width="4.0" height="4.0"/><rect x="244.3" y="689.4" width="4.0" height="4.0"/><rect x="210.9" y="556.3" width="4.0" height="4.0"/><rect x="226.0" y="569.9" width="4.0" height="4.0"/><rect x="224.2" y="592.0" width="4.0" height="4.0"/><rect x="226.8" y="602.4" width="4.0" height="4.0"/><rect x="203.4" y="613.5" width="4.0" height="4.0"/><rect x="211.1" y="644.3" width="4.0" height="4.0"/><rect x="183.1" y="651.4" width="4.0" height="4.0"/><rect x="179.0" y="654.6" width="4.0" height="4.0"/><rect x="184.8" y="666.5" width="4.0" height="4.0"/><rect x="183.4" y="670.3" width="4.0" height="4.0"/><rect x="217.9" y="666.9" width="4.0" height="4.0"/><rect x="210.9" y="672.8" width="4.0" height="4.0"/><rect x="226.3" y="675.4" width="4.0" height="4.0"/><rect x="198.5" y="684.7" width="4.0" height="4.0"/><rect x="179.5" y="689.7" width="4.0" height="4.0"/><rect x="181.0" y="692.7" width="4.0" height="4.0"/><rect x="194.7" y="690.3" width="4.0" height="4.0"/><rect x="222.0" y="687.9" width="4.0" height="4.0"/><rect x="218.9" y="693.7" width="4.0" height="4.0"/><rect x="181.9" y="710.1" width="4.0" height="4.0"/><rect x="584.2" y="421.9" width="4.0" height="4.0"/>
</g>
<line x1="181.5" y1="657.6" x2="430.3" y2="413.4" stroke="#ae7512"/>
</g>
<line x1="141.7" y1="749.5" x2="1005.0" y2="30.4" stroke="#000" stroke-width="4.1" stroke-dasharray="7.8 8.184" stroke-dashoffset="-1.08"/>
<g stroke="#000" stroke-width="2.4" fill="none" stroke-linecap="butt">
<rect x="141.7" y="30.4" width="863.3" height="719.1"/>
<line x1="141.7" y1="749.5" x2="141.7" y2="767.3"/>
<line x1="141.7" y1="30.4" x2="141.7" y2="12.1"/>
<line x1="141.7" y1="749.5" x2="123.4" y2="749.5"/>
<line x1="1005.0" y1="749.5" x2="1023.3" y2="749.5"/>
<line x1="314.4" y1="749.5" x2="314.4" y2="767.3"/>
<line x1="314.4" y1="30.4" x2="314.4" y2="12.1"/>
<line x1="141.7" y1="605.7" x2="123.4" y2="605.7"/>
<line x1="1005.0" y1="605.7" x2="1023.3" y2="605.7"/>
<line x1="487.0" y1="749.5" x2="487.0" y2="767.3"/>
<line x1="487.0" y1="30.4" x2="487.0" y2="12.1"/>
<line x1="141.7" y1="461.9" x2="123.4" y2="461.9"/>
<line x1="1005.0" y1="461.9" x2="1023.3" y2="461.9"/>
<line x1="659.7" y1="749.5" x2="659.7" y2="767.3"/>
<line x1="659.7" y1="30.4" x2="659.7" y2="12.1"/>
<line x1="141.7" y1="318.0" x2="123.4" y2="318.0"/>
<line x1="1005.0" y1="318.0" x2="1023.3" y2="318.0"/>
<line x1="832.3" y1="749.5" x2="832.3" y2="767.3"/>
<line x1="832.3" y1="30.4" x2="832.3" y2="12.1"/>
<line x1="141.7" y1="174.2" x2="123.4" y2="174.2"/>
<line x1="1005.0" y1="174.2" x2="1023.3" y2="174.2"/>
<line x1="1005.0" y1="749.5" x2="1005.0" y2="767.3"/>
<line x1="1005.0" y1="30.4" x2="1005.0" y2="12.1"/>
<line x1="141.7" y1="30.4" x2="123.4" y2="30.4"/>
<line x1="1005.0" y1="30.4" x2="1023.3" y2="30.4"/>
</g>
<g font-size="40">
<text x="115.6" y="760.5" text-anchor="end">0</text>
<text x="115.6" y="616.7" text-anchor="end">1</text>
<text x="115.6" y="472.9" text-anchor="end">2</text>
<text x="115.6" y="329.0" text-anchor="end">3</text>
<text x="115.6" y="185.2" text-anchor="end">4</text>
<text x="115.6" y="41.4" text-anchor="end">5</text>
<text x="141.7" y="808.0" text-anchor="middle">0</text>
<text x="314.4" y="808.0" text-anchor="middle">1</text>
<text x="487.0" y="808.0" text-anchor="middle">2</text>
<text x="659.7" y="808.0" text-anchor="middle">3</text>
<text x="832.3" y="808.0" text-anchor="middle">4</text>
<text x="1005.0" y="808.0" text-anchor="middle">5</text>
</g>
<text x="357.3" y="871" font-size="40">SMPS Volume µm<tspan font-size="27.5" dy="-24.6">3</tspan><tspan dy="24.6" dx="0.3"> cm</tspan><tspan font-size="27.5" dy="-24.6" dx="0.5">-3</tspan></text>
<text transform="translate(57.0,604.8) rotate(-90)" font-size="40">ACSM Volume µm<tspan font-size="27.5" dy="-22.4">3</tspan><tspan dy="22.4" dx="0.3"> cm</tspan><tspan font-size="27.5" dy="-22.4" dx="0.5">-3</tspan></text>
<g id="legend" font-size="22.7" letter-spacing="0.3" stroke-width="2.6">
<line x1="104.0" y1="62.1" x2="141.0" y2="62.1" stroke="#000000"/>
<text x="151.2" y="68.2">P10</text>
<line x1="202.6" y1="62.1" x2="239.6" y2="62.1" stroke="#f01016"/>
<text x="249.8" y="68.2">P9</text>
<line x1="288.3" y1="62.1" x2="325.3" y2="62.1" stroke="#f7ac16"/>
<text x="335.5" y="68.2">P8</text>
<line x1="374.0" y1="62.1" x2="411.0" y2="62.1" stroke="#1446dc"/>
<text x="421.2" y="68.2">P7</text>
<line x1="459.4" y1="62.1" x2="496.4" y2="62.1" stroke="#4fc3f1"/>
<text x="506.6" y="68.2">P6</text>
<line x1="113.8" y1="86.4" x2="150.8" y2="86.4" stroke="#7019ea"/>
<text x="161.0" y="92.0">P5</text>
<line x1="199.9" y1="86.4" x2="236.9" y2="86.4" stroke="#f014d2"/>
<text x="247.1" y="92.0">P4</text>
<line x1="285.4" y1="86.4" x2="322.4" y2="86.4" stroke="#d2d2d2"/>
<text x="332.6" y="92.0">P3</text>
<line x1="370.6" y1="86.4" x2="407.6" y2="86.4" stroke="#16a51c"/>
<text x="417.8" y="92.0">P2</text>
<line x1="455.9" y1="86.4" x2="492.9" y2="86.4" stroke="#ae7512"/>
<text x="503.1" y="92.0">P1</text>
</g>
<text x="931.3" y="125.3" font-size="19" letter-spacing="0.25">1:1 line</text>
<g font-size="18.5">
<text x="829" y="588.0">OA <tspan dx="0.8">ρ</tspan>=0.9 g/cm<tspan font-size="12.5" dy="-9">3</tspan></text>
<text x="829" y="614.2">SO<tspan font-size="12.5" dy="4.5">4</tspan><tspan dy="-4.5" dx="1.5"> </tspan><tspan dx="0.8">ρ</tspan>=1.77 g/cm<tspan font-size="12.5" dy="-9">3</tspan></text>
<text x="829" y="640.7">CHL <tspan dx="0.8">ρ</tspan>=1.35 g/cm<tspan font-size="12.5" dy="-9">3</tspan></text>
<text x="829" y="667.3">NH<tspan font-size="12.5" dy="4.5">4</tspan><tspan dy="-4.5" dx="1.5"> </tspan><tspan dx="0.8">ρ</tspan>=1.77 g/cm<tspan font-size="12.5" dy="-9">3</tspan></text>
<text x="829" y="694.0">NO<tspan font-size="12.5" dy="4.5">3</tspan><tspan dy="-4.5" dx="1.5"> </tspan><tspan dx="0.8">ρ</tspan>=1.72 g/cm<tspan font-size="12.5" dy="-9">3</tspan></text>
<text x="829" y="721.4">rBC <tspan dx="0.8">ρ</tspan>=1.8 g/cm<tspan font-size="12.5" dy="-9">3</tspan></text>
</g>
</svg></body></html>
